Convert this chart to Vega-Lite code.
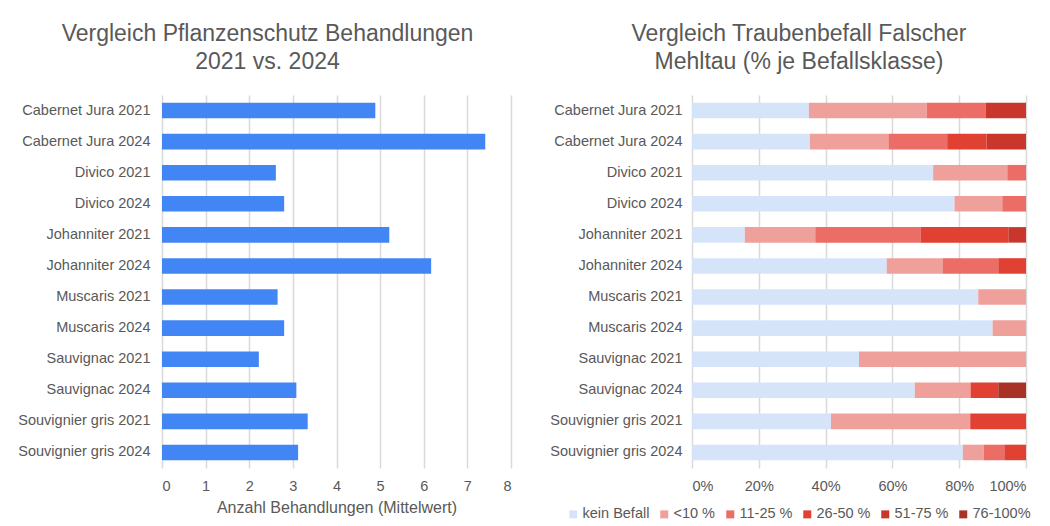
{
  "$schema": "https://vega.github.io/schema/vega-lite/v6.json",
  "background": "white",
  "padding": {"left": 12, "top": 23, "right": 0, "bottom": 0},
  "spacing": 181,
  "bounds": "flush",
  "config": {
    "font": "Liberation Sans",
    "view": {"stroke": null},
    "axis": {"labelColor": "#595959", "labelFontSize": 14.5, "titleColor": "#595959", "titleFontSize": 16, "titleFontWeight": "normal", "gridColor": "#d9d9d9", "gridWidth": 1.5, "domain": false, "ticks": false, "tickSize": 0},
    "title": {"fontSize": 23, "fontWeight": "normal", "color": "#595959", "lineHeight": 28},
    "legend": {"labelColor": "#595959", "labelFontSize": 14.5}
  },
  "datasets": {
    "treat": [
      {"sorte": "Cabernet Jura 2021", "anzahl": 4.89},
      {"sorte": "Cabernet Jura 2024", "anzahl": 7.41},
      {"sorte": "Divico 2021", "anzahl": 2.61},
      {"sorte": "Divico 2024", "anzahl": 2.8},
      {"sorte": "Johanniter 2021", "anzahl": 5.21},
      {"sorte": "Johanniter 2024", "anzahl": 6.17},
      {"sorte": "Muscaris 2021", "anzahl": 2.65},
      {"sorte": "Muscaris 2024", "anzahl": 2.8},
      {"sorte": "Sauvignac 2021", "anzahl": 2.22},
      {"sorte": "Sauvignac 2024", "anzahl": 3.08},
      {"sorte": "Souvignier gris 2021", "anzahl": 3.34},
      {"sorte": "Souvignier gris 2024", "anzahl": 3.12}
    ],
    "befall": [
      {"sorte": "Cabernet Jura 2021", "klasse": "kein Befall", "k": 0, "pct": 35.0},
      {"sorte": "Cabernet Jura 2021", "klasse": "<10 %", "k": 1, "pct": 35.3},
      {"sorte": "Cabernet Jura 2021", "klasse": "11-25 %", "k": 2, "pct": 17.7},
      {"sorte": "Cabernet Jura 2021", "klasse": "51-75 %", "k": 4, "pct": 12.0},
      {"sorte": "Cabernet Jura 2024", "klasse": "kein Befall", "k": 0, "pct": 35.3},
      {"sorte": "Cabernet Jura 2024", "klasse": "<10 %", "k": 1, "pct": 23.5},
      {"sorte": "Cabernet Jura 2024", "klasse": "11-25 %", "k": 2, "pct": 17.6},
      {"sorte": "Cabernet Jura 2024", "klasse": "26-50 %", "k": 3, "pct": 11.8},
      {"sorte": "Cabernet Jura 2024", "klasse": "51-75 %", "k": 4, "pct": 11.8},
      {"sorte": "Divico 2021", "klasse": "kein Befall", "k": 0, "pct": 72.2},
      {"sorte": "Divico 2021", "klasse": "<10 %", "k": 1, "pct": 22.2},
      {"sorte": "Divico 2021", "klasse": "11-25 %", "k": 2, "pct": 5.6},
      {"sorte": "Divico 2024", "klasse": "kein Befall", "k": 0, "pct": 78.6},
      {"sorte": "Divico 2024", "klasse": "<10 %", "k": 1, "pct": 14.3},
      {"sorte": "Divico 2024", "klasse": "11-25 %", "k": 2, "pct": 7.1},
      {"sorte": "Johanniter 2021", "klasse": "kein Befall", "k": 0, "pct": 15.8},
      {"sorte": "Johanniter 2021", "klasse": "<10 %", "k": 1, "pct": 21.1},
      {"sorte": "Johanniter 2021", "klasse": "11-25 %", "k": 2, "pct": 31.5},
      {"sorte": "Johanniter 2021", "klasse": "26-50 %", "k": 3, "pct": 26.3},
      {"sorte": "Johanniter 2021", "klasse": "51-75 %", "k": 4, "pct": 5.3},
      {"sorte": "Johanniter 2024", "klasse": "kein Befall", "k": 0, "pct": 58.3},
      {"sorte": "Johanniter 2024", "klasse": "<10 %", "k": 1, "pct": 16.7},
      {"sorte": "Johanniter 2024", "klasse": "11-25 %", "k": 2, "pct": 16.7},
      {"sorte": "Johanniter 2024", "klasse": "26-50 %", "k": 3, "pct": 8.3},
      {"sorte": "Muscaris 2021", "klasse": "kein Befall", "k": 0, "pct": 85.7},
      {"sorte": "Muscaris 2021", "klasse": "<10 %", "k": 1, "pct": 14.3},
      {"sorte": "Muscaris 2024", "klasse": "kein Befall", "k": 0, "pct": 90.0},
      {"sorte": "Muscaris 2024", "klasse": "<10 %", "k": 1, "pct": 10.0},
      {"sorte": "Sauvignac 2021", "klasse": "kein Befall", "k": 0, "pct": 50.0},
      {"sorte": "Sauvignac 2021", "klasse": "<10 %", "k": 1, "pct": 50.0},
      {"sorte": "Sauvignac 2024", "klasse": "kein Befall", "k": 0, "pct": 66.7},
      {"sorte": "Sauvignac 2024", "klasse": "<10 %", "k": 1, "pct": 16.7},
      {"sorte": "Sauvignac 2024", "klasse": "26-50 %", "k": 3, "pct": 8.3},
      {"sorte": "Sauvignac 2024", "klasse": "76-100%", "k": 5, "pct": 8.3},
      {"sorte": "Souvignier gris 2021", "klasse": "kein Befall", "k": 0, "pct": 41.6},
      {"sorte": "Souvignier gris 2021", "klasse": "<10 %", "k": 1, "pct": 41.7},
      {"sorte": "Souvignier gris 2021", "klasse": "26-50 %", "k": 3, "pct": 16.7},
      {"sorte": "Souvignier gris 2024", "klasse": "kein Befall", "k": 0, "pct": 81.1},
      {"sorte": "Souvignier gris 2024", "klasse": "<10 %", "k": 1, "pct": 6.2},
      {"sorte": "Souvignier gris 2024", "klasse": "11-25 %", "k": 2, "pct": 6.2},
      {"sorte": "Souvignier gris 2024", "klasse": "26-50 %", "k": 3, "pct": 6.5}
    ]
  },
  "hconcat": [
    {
      "width": 349,
      "height": 373,
      "title": {"text": ["Vergleich Pflanzenschutz Behandlungen", "2021 vs. 2024"], "dx": -69, "offset": 21},
      "data": {"name": "treat"},
      "mark": {"type": "bar", "color": "#4285f4"},
      "encoding": {
        "y": {"field": "sorte", "type": "nominal", "sort": null, "scale": {"paddingInner": 0.5, "paddingOuter": 0.25}, "axis": {"title": null, "minExtent": 150, "maxExtent": 150, "labelPadding": 12, "grid": false}},
        "x": {"field": "anzahl", "type": "quantitative", "scale": {"domain": [0, 8]}, "axis": {"values": [0, 1, 2, 3, 4, 5, 6, 7, 8], "title": "Anzahl Behandlungen (Mittelwert)", "labelPadding": 11, "titlePadding": 7}}
      }
    },
    {
      "width": 334,
      "height": 373,
      "title": {"text": ["Vergleich Traubenbefall Falscher", "Mehltau (% je Befallsklasse)"], "dx": -60, "offset": 21},
      "data": {"name": "befall"},
      "mark": {"type": "bar"},
      "encoding": {
        "y": {"field": "sorte", "type": "nominal", "sort": null, "scale": {"paddingInner": 0.5, "paddingOuter": 0.25}, "axis": {"title": null, "minExtent": 150, "maxExtent": 150, "labelPadding": 10, "grid": false}},
        "x": {"field": "pct", "type": "quantitative", "stack": "normalize", "scale": {"domain": [0, 1]}, "axis": {"values": [0, 0.2, 0.4, 0.6, 0.8, 1], "format": ".0%", "title": null, "labelPadding": 11}},
        "order": {"field": "k", "type": "quantitative"},
        "color": {
          "field": "klasse", "type": "nominal",
          "scale": {"domain": ["kein Befall", "<10 %", "11-25 %", "26-50 %", "51-75 %", "76-100%"], "range": ["#d6e4fa", "#f0a09b", "#ec6d66", "#e04133", "#c9372c", "#a93226"]},
          "legend": {"orient": "none", "legendX": 404, "legendY": 412, "direction": "horizontal", "columns": 6, "title": null, "symbolType": "square", "symbolSize": 64, "symbolStrokeWidth": 0, "labelOffset": 2, "columnPadding": 7}
        }
      }
    }
  ]
}
